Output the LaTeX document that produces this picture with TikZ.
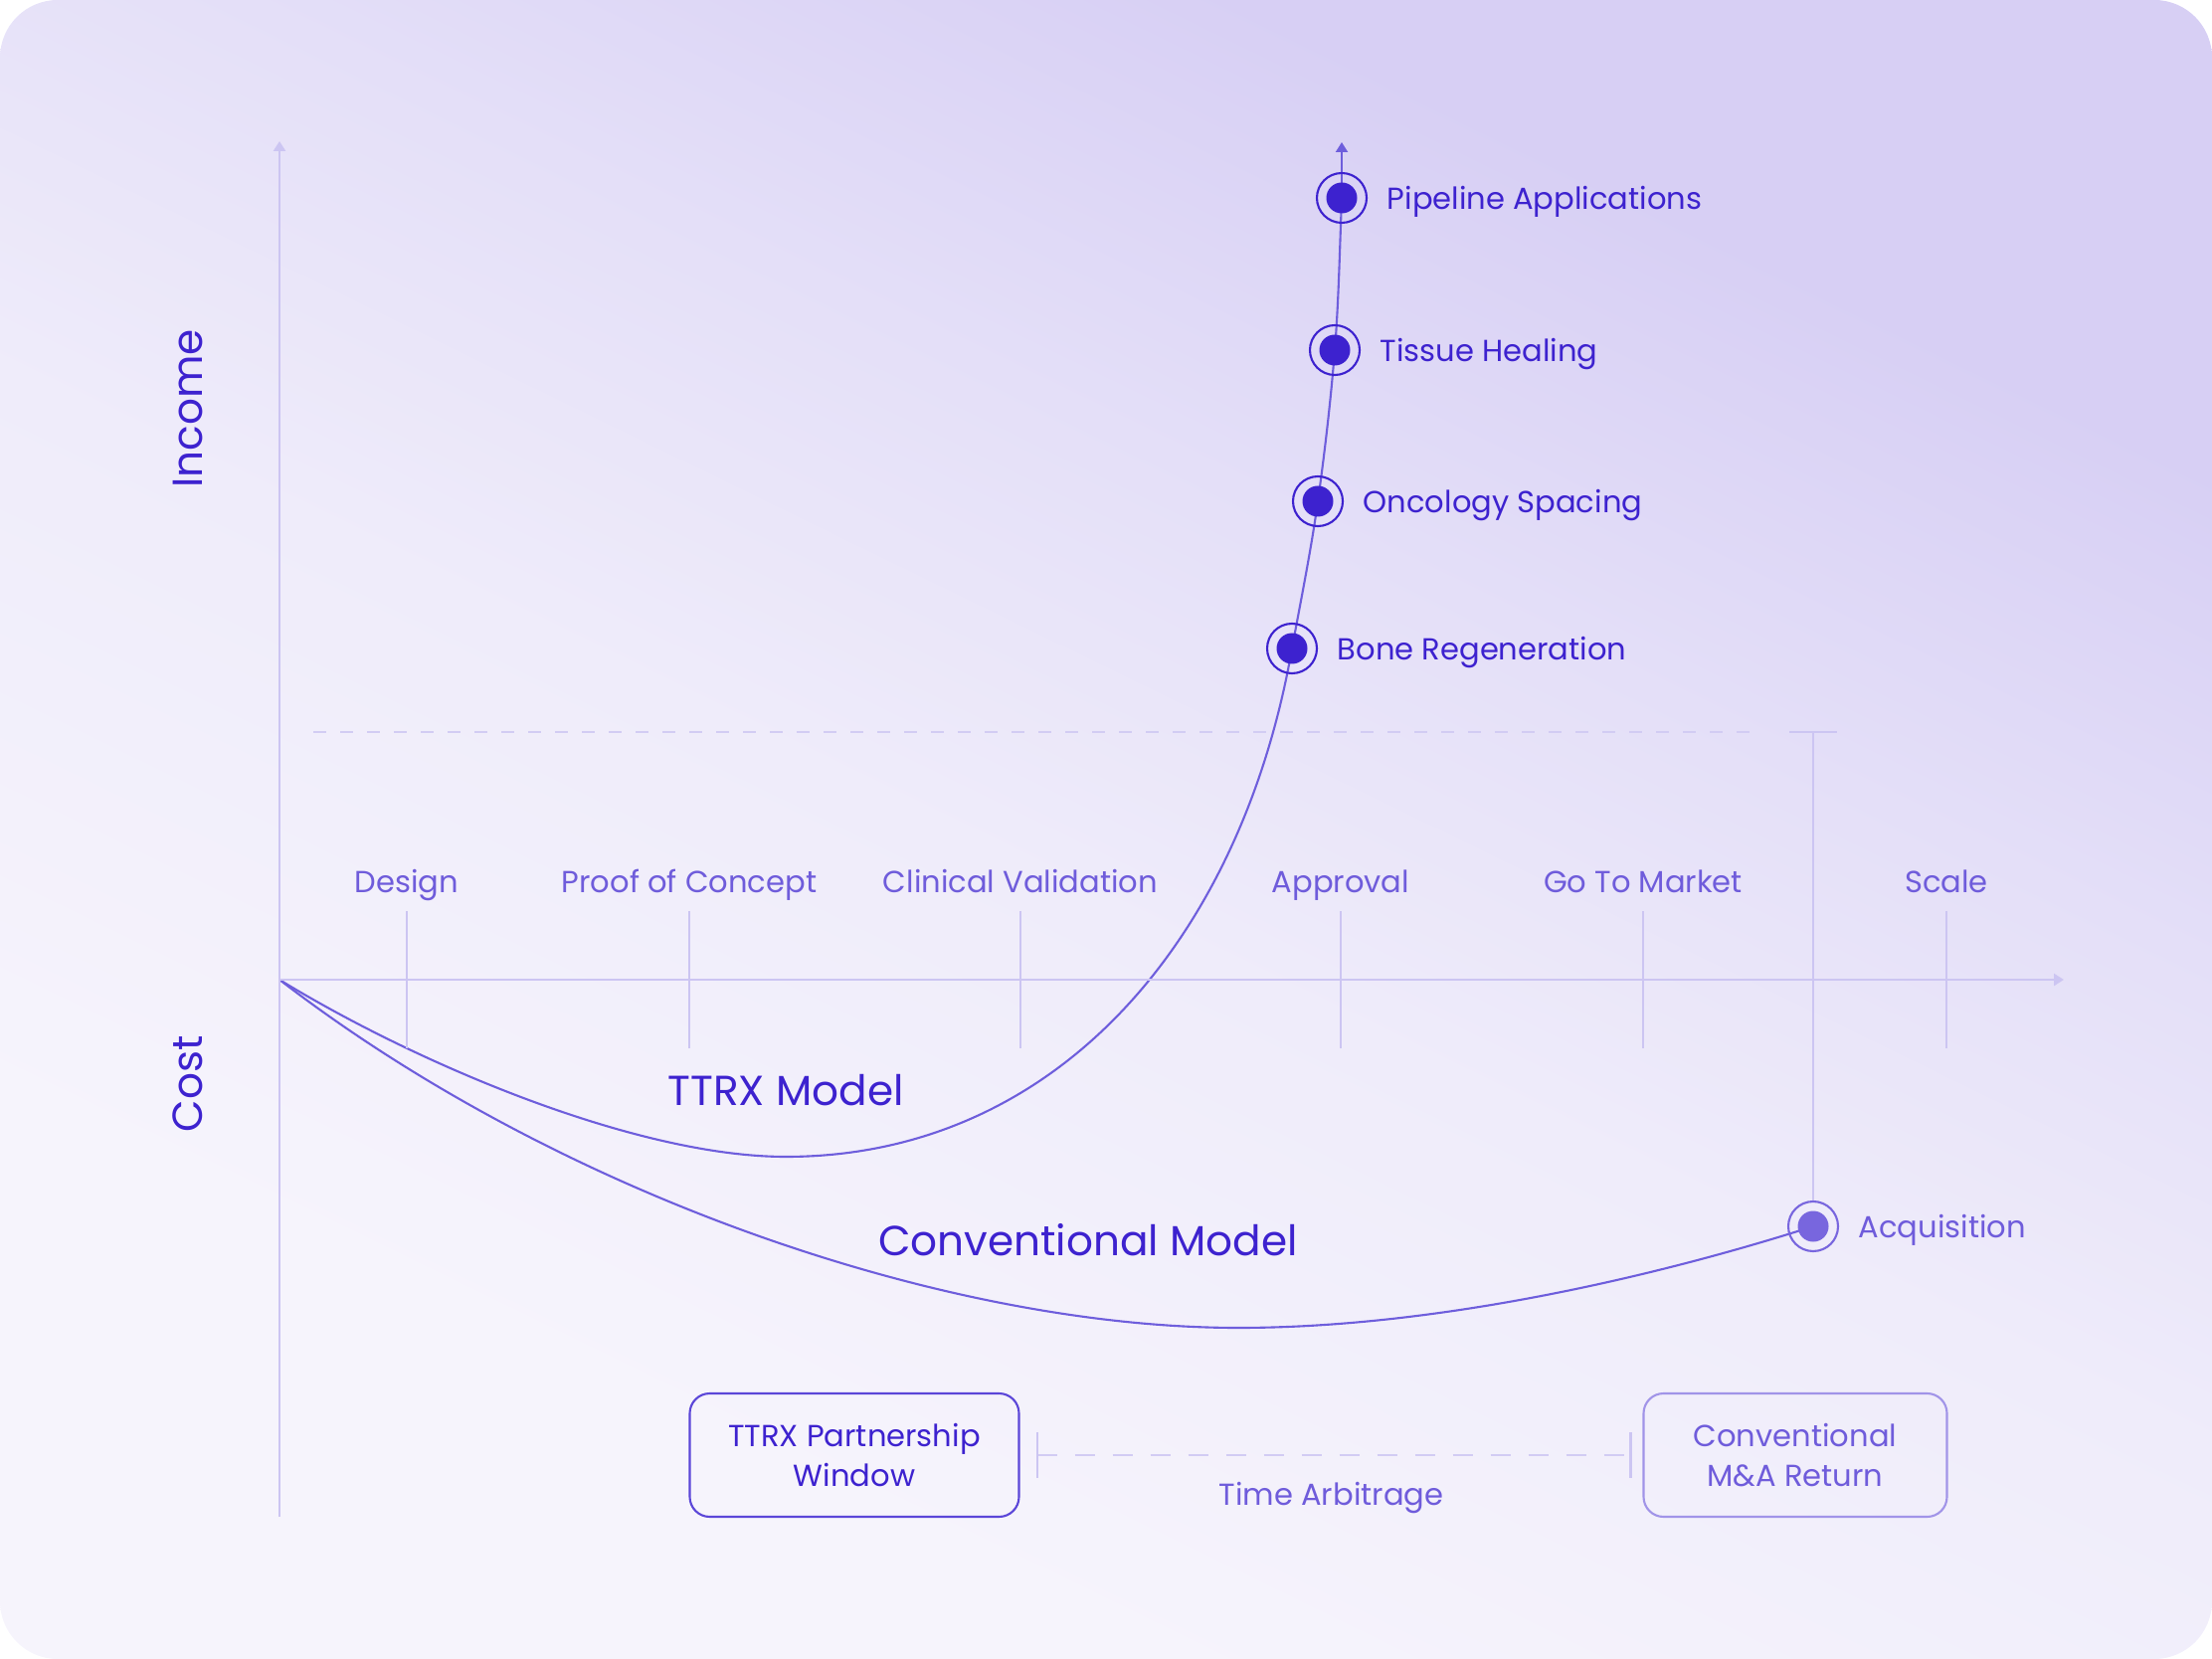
\documentclass[tikz,border=0pt]{standalone}
\usepackage{fontspec}
\setmainfont{Poppins}
\usetikzlibrary{arrows.meta,positioning,backgrounds}
\definecolor{ink}{HTML}{3D22CF}
\definecolor{softink}{HTML}{6F5CDB}
\definecolor{curvecol}{HTML}{6E5EDC}
\definecolor{axiscol}{HTML}{CCC5F2}
\definecolor{guidecol}{HTML}{D2CCF3}
\definecolor{acqcol}{HTML}{7866DE}
\definecolor{boxline}{HTML}{5B46D8}
\definecolor{softbox}{HTML}{A194E8}
\definecolor{bgtop}{HTML}{D7CFF4}
\definecolor{bgmid}{HTML}{E4DFF8}
\definecolor{bglow}{HTML}{EFECFA}
\definecolor{bgbot}{HTML}{F6F4FC}
\pgfdeclareverticalshading{bgfade}{100bp}{color(0bp)=(bgbot); color(30bp)=(bgbot);
  color(48bp)=(bglow); color(60bp)=(bgmid); color(72bp)=(bgtop); color(100bp)=(bgtop)}
\tikzset{
  axisln/.style={draw=axiscol,line width=0.75pt},
  tickln/.style={draw=axiscol,line width=0.6pt},
  tipaxis/.style={-{Triangle[width=1.2mm,length=1mm]}},
  guide/.style={draw=guidecol,line width=0.6pt,dash pattern=on 1.3mm off 1.4mm},
  arbline/.style={draw=guidecol,line width=0.6pt,dash pattern=on 2mm off 1.8mm},
  curve/.style={draw=curvecol,line width=0.6pt},
  ring/.style={circle,draw=#1,line width=0.6pt,minimum size=5mm,inner sep=0pt,
    path picture={\fill[#1] (path picture bounding box.center) circle (1.55mm);}},
  ring/.default=ink,
  milelbl/.style={font=\fontsize{8.7}{10}\selectfont,text=ink,inner sep=0pt,text depth=0pt},
  stage/.style={font=\fontsize{8.7}{10}\selectfont,text=softink,inner sep=0pt,anchor=base},
  note/.style={font=\fontsize{8.7}{10}\selectfont,text=softink,inner sep=0pt},
  model/.style={font=\fontsize{12}{14}\selectfont,text=ink,inner sep=0pt},
  axname/.style={font=\fontsize{12}{14}\selectfont,text=ink,inner sep=0pt,rotate=90},
  winbox/.style={draw=boxline,line width=0.6pt,rounded corners=2mm,minimum height=12.4mm,
    align=center,font=\fontsize{8.7}{11.3}\selectfont,text=ink}
}
\begin{document}
\begin{tikzpicture}[x=0.1mm,y=-0.1mm]
  \useasboundingbox (0,0) rectangle (2224,1668);
  \begin{scope}[on background layer]
    \shade[rounded corners=5.8mm,shading=bgfade,shading angle=-26] (0,0) rectangle (2224,1668);
  \end{scope}

  % axes
  \coordinate (o) at (281,985);
  \coordinate (ytop) at (281,142);
  \coordinate (ybot) at (281,1525);
  \coordinate (xend) at (2075,985);
  \draw[axisln,tipaxis] (ybot) -- (ytop);
  \draw[axisln,tipaxis] (o) -- (xend);
  \node[axname] (income) at (189,411) {Income};
  \node[axname] (cost) at (189,1090) {Cost};

  % stages along the time axis
  \coordinate (tt) at (0,916);
  \coordinate (tb) at (0,1054);
  \node[stage] (design) at (409,897) {Design};
  \node[stage] (poc) at (693,897) {Proof of Concept};
  \node[stage] (clin) at (1026,897) {Clinical Validation};
  \node[stage] (appr) at (1348,897) {Approval};
  \node[stage] (gtm) at (1652,897) {Go To Market};
  \node[stage] (scale) at (1957,897) {Scale};
  \draw[tickln] (design |- tt) -- (design |- tb);
  \draw[tickln] (poc |- tt) -- (poc |- tb);
  \draw[tickln] (clin |- tt) -- (clin |- tb);
  \draw[tickln] (appr |- tt) -- (appr |- tb);
  \draw[tickln] (gtm |- tt) -- (gtm |- tb);
  \draw[tickln] (scale |- tt) -- (scale |- tb);

  % break-even guide
  \coordinate (gl) at (315,736);
  \coordinate (gr) at (1759,736);
  \draw[guide] (gl) -- (gr);

  % milestones
  \node[ring] (pipe) at (1349,199) {};
  \node[ring] (tissue) at (1342,352) {};
  \node[ring] (onco) at (1325,504) {};
  \node[ring] (bone) at (1299,652) {};
  \node[ring=acqcol] (acq) at (1823,1233) {};
  \node[milelbl,right=1.9mm of pipe] (pipetxt) {Pipeline Applications};
  \node[milelbl,right=1.9mm of tissue] (tissuetxt) {Tissue Healing};
  \node[milelbl,right=1.9mm of onco] (oncotxt) {Oncology Spacing};
  \node[milelbl,right=1.9mm of bone] (bonetxt) {Bone Regeneration};
  \node[milelbl,text=softink,right=1.9mm of acq] (acqtxt) {Acquisition};
  \coordinate (acqtop) at (acq |- gl);
  \draw[axisln] (acq.north) -- (acqtop);
  \draw[axisln] ([xshift=-2.4mm]acqtop) -- ([xshift=2.4mm]acqtop);

  % the two models
  \coordinate (tiptop) at (1349,143);
  \begin{scope}[on background layer]
    \draw[curve] (o) .. controls (420,1070) and (640,1163) .. (790,1163)
      .. controls (1060,1163) and (1247,948) .. (bone.center)
      .. controls (1308,603) and (1318,554) .. (onco.center)
      .. controls (1332,454) and (1338,402) .. (tissue.center)
      .. controls (1346,302) and (1347,249) .. (pipe.center);
    \draw[curve,tipaxis] (pipe.center) -- (tiptop);
    \draw[curve] (o) .. controls (560,1200) and (950,1335) .. (1245,1335)
      .. controls (1450,1335) and (1673,1281) .. (acq.center);
  \end{scope}
  \node[model] (ttrx) at (790,1096) {TTRX Model};
  \node[model] (conv) at (1094,1247) {Conventional Model};

  % windows
  \node[winbox,minimum width=33.1mm] (tw) at (859,1463) {TTRX Partnership\\Window};
  \node[winbox,draw=softbox,text=softink,minimum width=30.5mm] (cm) at (1805,1463) {Conventional\\M\&A Return};
  \coordinate (al) at ([xshift=1.7mm]tw.east);
  \coordinate (ar) at ([xshift=-1.2mm]cm.west);
  \draw[arbline] (al) -- (ar);
  \draw[tickln] ([yshift=2.3mm]al) -- ([yshift=-2.3mm]al);
  \draw[tickln] ([yshift=2.3mm]ar) -- ([yshift=-2.3mm]ar);
  \path (tw.east) -- (cm.west) node[midway,note,below=2.7mm] (arb) {Time Arbitrage};
\end{tikzpicture}
\end{document}
